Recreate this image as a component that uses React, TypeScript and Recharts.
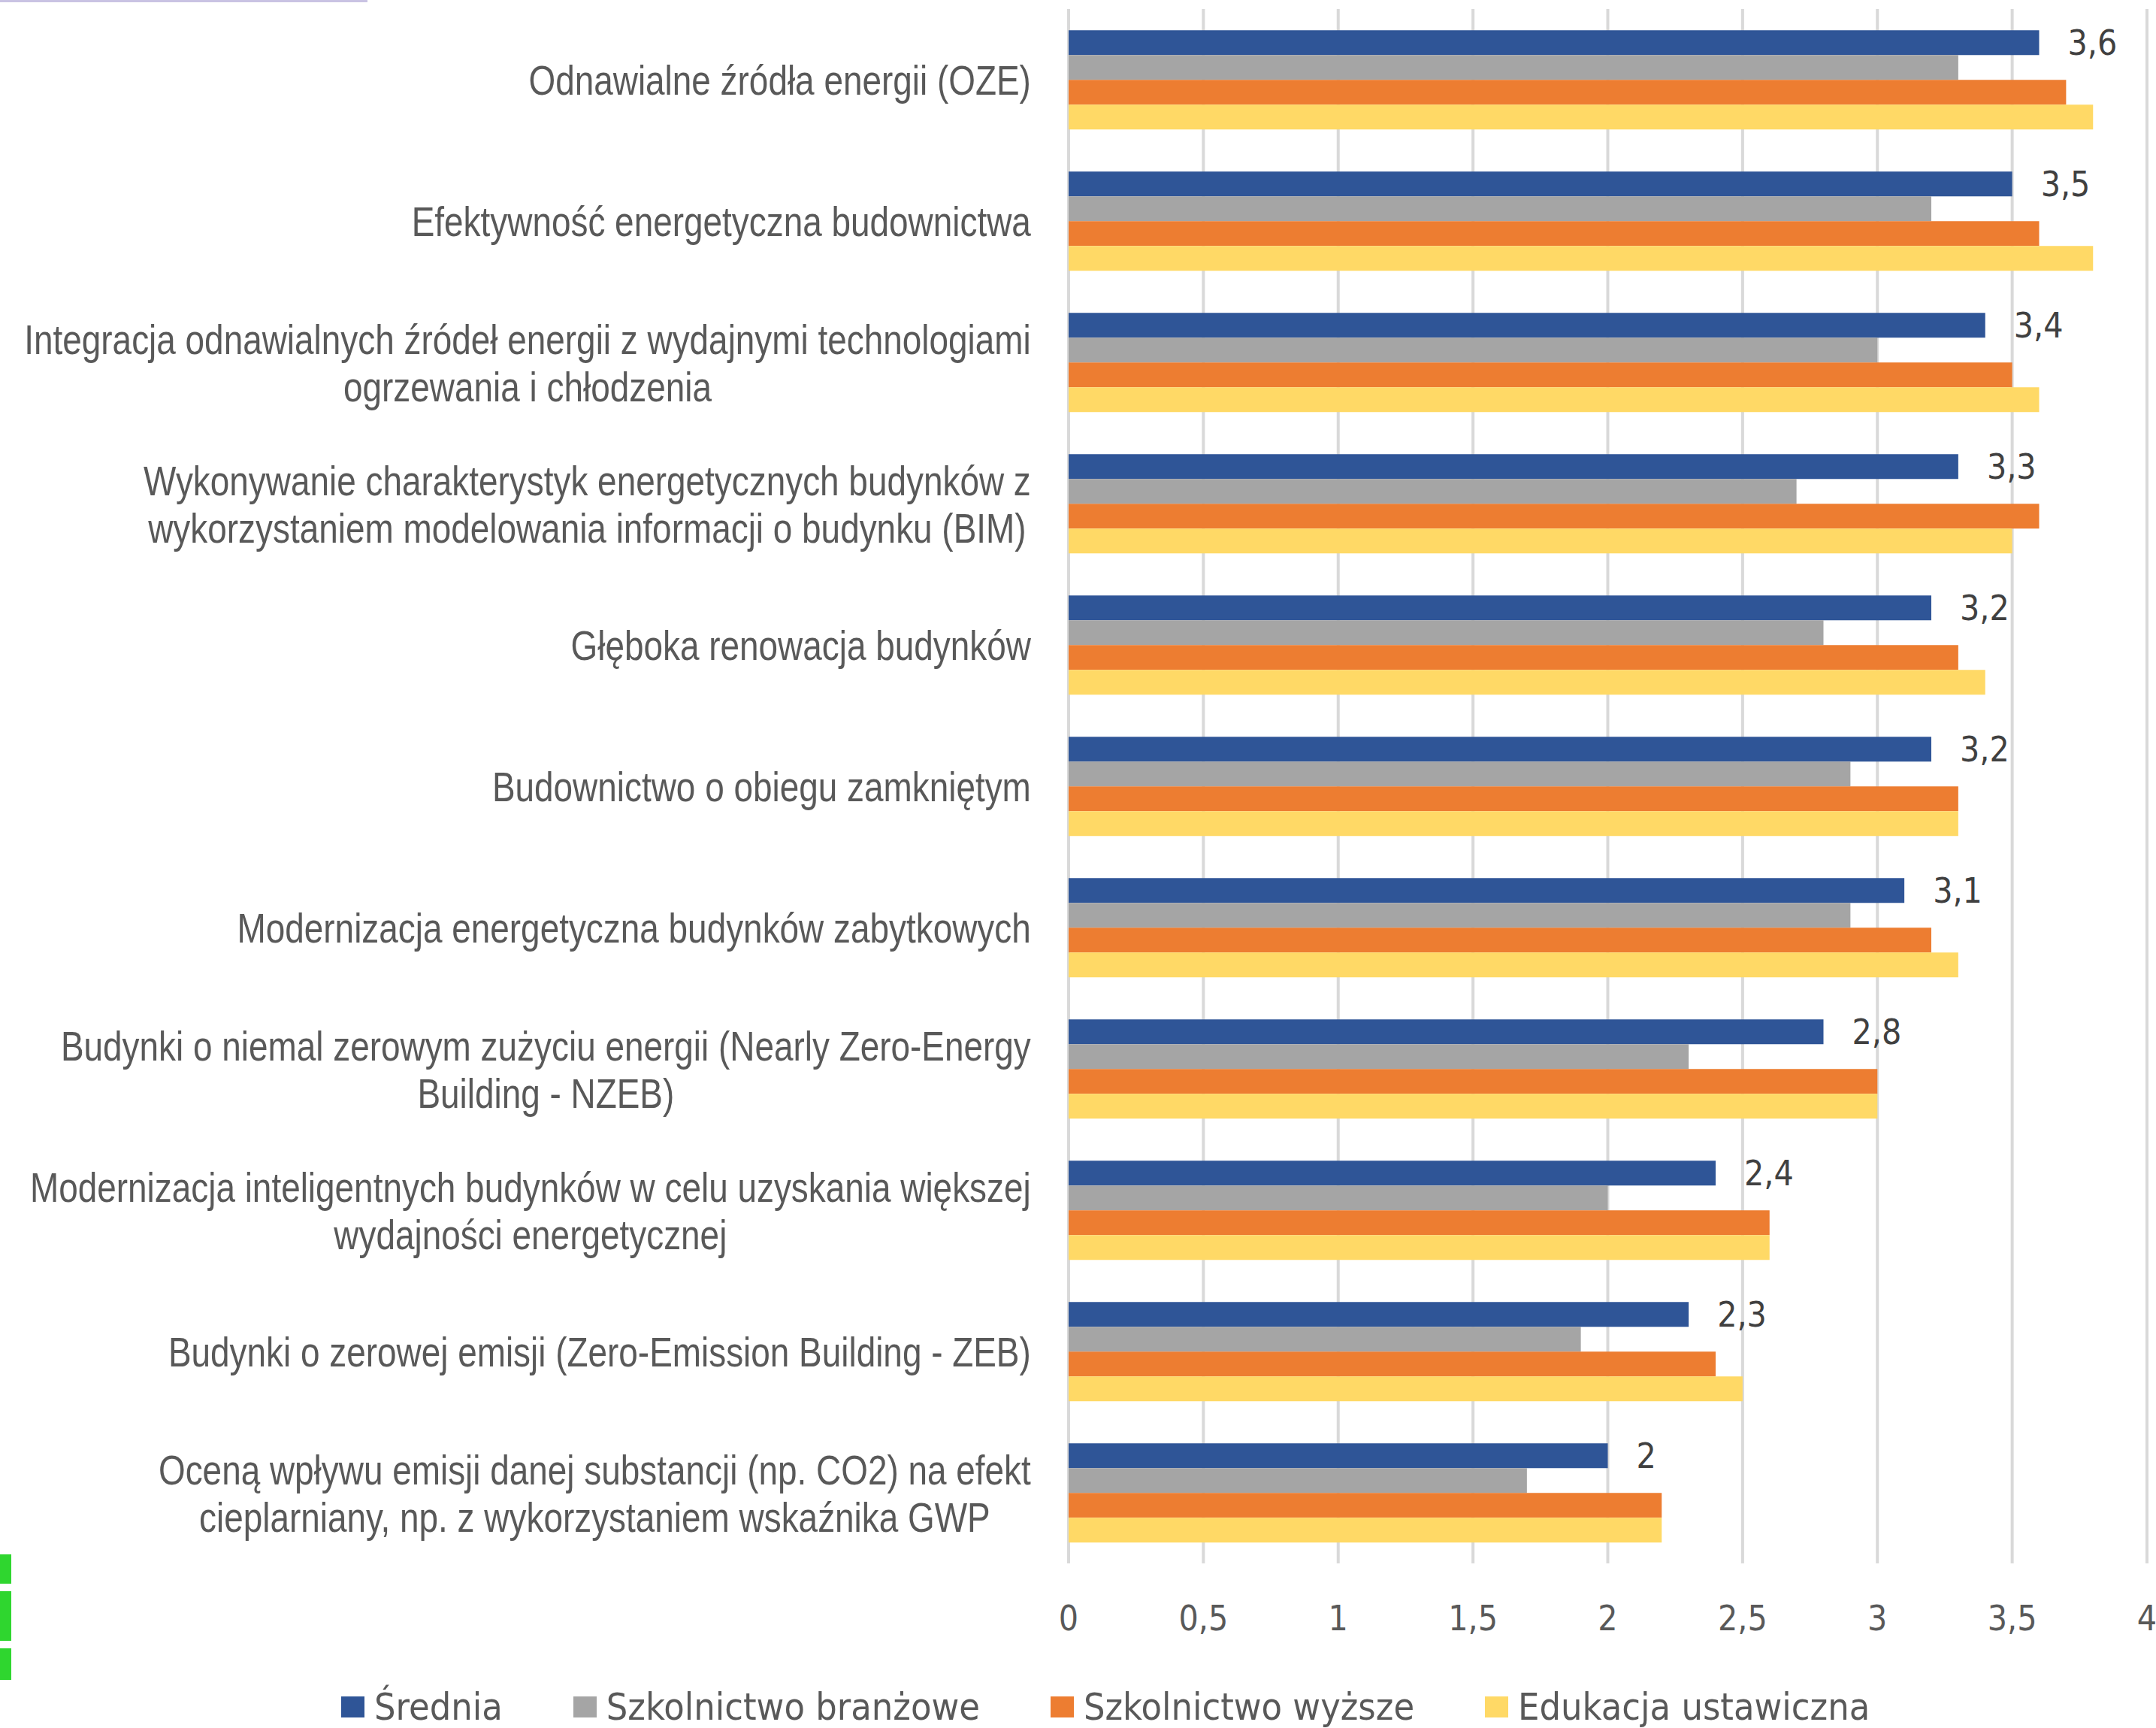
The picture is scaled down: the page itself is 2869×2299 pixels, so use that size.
import React from 'react';
import { BarChart, Bar, XAxis, YAxis, CartesianGrid, Legend, LabelList } from 'recharts';

const categories = [
  'Odnawialne źródła energii (OZE)',
  'Efektywność energetyczna budownictwa',
  'Integracja odnawialnych źródeł energii z wydajnymi technologiami\nogrzewania i chłodzenia',
  'Wykonywanie charakterystyk energetycznych budynków z\nwykorzystaniem modelowania informacji o budynku (BIM)',
  'Głęboka renowacja budynków',
  'Budownictwo o obiegu zamkniętym',
  'Modernizacja energetyczna budynków zabytkowych',
  'Budynki o niemal zerowym zużyciu energii (Nearly Zero-Energy\nBuilding - NZEB)',
  'Modernizacja inteligentnych budynków w celu uzyskania większej\nwydajności energetycznej',
  'Budynki o zerowej emisji (Zero-Emission Building - ZEB)',
  'Oceną wpływu emisji danej substancji (np. CO2) na efekt\ncieplarniany, np. z wykorzystaniem wskaźnika GWP',
];

const srednia = [3.6, 3.5, 3.4, 3.3, 3.2, 3.2, 3.1, 2.8, 2.4, 2.3, 2.0];
const branzowe = [3.3, 3.2, 3.0, 2.7, 2.8, 2.9, 2.9, 2.3, 2.0, 1.9, 1.7];
const wyzsze = [3.7, 3.6, 3.5, 3.6, 3.3, 3.3, 3.2, 3.0, 2.6, 2.4, 2.2];
const ustawiczna = [3.8, 3.8, 3.6, 3.5, 3.4, 3.3, 3.3, 3.0, 2.6, 2.5, 2.2];

const xTicks = [0, 0.5, 1, 1.5, 2, 2.5, 3, 3.5, 4];

const series = [
  { key: 'srednia', name: 'Średnia', color: '#2F5597' },
  { key: 'branzowe', name: 'Szkolnictwo branżowe', color: '#A5A5A5' },
  { key: 'wyzsze', name: 'Szkolnictwo wyższe', color: '#ED7D31' },
  { key: 'ustawiczna', name: 'Edukacja ustawiczna', color: '#FFD966' },
];

const data = categories.map((name, i) => ({
  name,
  srednia: srednia[i],
  branzowe: branzowe[i],
  wyzsze: wyzsze[i],
  ustawiczna: ustawiczna[i],
}));

// the source uses a narrow grotesque, so regular Liberation Sans is squeezed horizontally
const LABEL_FONT = "56px 'Liberation Sans'";
const SQUEEZE = 0.82;
const NUM_FONT = "'DejaVu Sans Condensed', 'DejaVu Sans'";

let ctx: CanvasRenderingContext2D | null = null;
function measure(text: string) {
  if (!ctx) ctx = document.createElement('canvas').getContext('2d');
  if (!ctx) return text.length * 25;
  ctx.font = LABEL_FONT;
  return ctx.measureText(text).width * SQUEEZE;
}

const comma = (v: number) => String(v).replace('.', ',');

function CategoryTick(props: any) {
  const { x, y, payload } = props;
  const lines: string[] = String(payload.value).split('\n');
  const maxW = Math.max(...lines.map(measure));
  const cx = x - maxW / 2;
  const lh = 63;
  return (
    <g>
      {lines.map((l, i) => (
        <g key={i} transform={`translate(${cx},${y + (i - (lines.length - 1) / 2) * lh}) scale(${SQUEEZE},1)`}>
          <text x={0} y={0} dy="0.36em" textAnchor="middle" fill="#595959" style={{ font: LABEL_FONT }}>
            {l}
          </text>
        </g>
      ))}
    </g>
  );
}

function ValueTick(props: any) {
  const { x, y, payload } = props;
  return (
    <text x={x} y={y + 66} dy="0.36em" textAnchor="middle" fill="#595959" fontSize={46} fontFamily={NUM_FONT}>
      {comma(payload.value)}
    </text>
  );
}

function LegendContent() {
  return (
    <div
      style={{
        display: 'flex',
        justifyContent: 'flex-start',
        paddingLeft: 454,
        height: 70,
        alignItems: 'flex-end',
        fontFamily: NUM_FONT,
        fontSize: 50,
        color: '#595959',
      }}
    >
      {series.map((s) => (
        <div key={s.key} style={{ display: 'flex', alignItems: 'center', marginRight: 94, lineHeight: '56px' }}>
          <span style={{ display: 'inline-block', width: 31, height: 28, background: s.color, marginRight: 13 }} />
          <span>{s.name}</span>
        </div>
      ))}
    </div>
  );
}

export default function App() {
  return (
    <div style={{ position: 'absolute', top: 0, left: 0, width: 2869, height: 2299, background: '#fff', overflow: 'hidden' }}>
      <div style={{ position: 'absolute', top: 0, left: 0, width: 489, height: 3, background: '#C9C3E3' }} />
      <div style={{ position: 'absolute', top: 2068, left: 0, width: 15, height: 39, background: '#2FD62F' }} />
      <div style={{ position: 'absolute', top: 2117, left: 0, width: 15, height: 66, background: '#2FD62F' }} />
      <div style={{ position: 'absolute', top: 2193, left: 0, width: 15, height: 42, background: '#2FD62F' }} />
      <BarChart
        width={2869}
        height={2299}
        data={data}
        layout="vertical"
        margin={{ top: 12, right: 12, left: 0, bottom: 0 }}
        barCategoryGap="15%"
        barGap={0}
      >
        <CartesianGrid horizontal={false} stroke="#D9D9D9" strokeWidth={4} />
        <XAxis
          type="number"
          domain={[0, 4]}
          ticks={xTicks}
          axisLine={false}
          tickLine={false}
          height={149}
          tick={<ValueTick />}
          tickMargin={0}
          interval={0}
        />
        <YAxis
          type="category"
          dataKey="name"
          width={1422}
          axisLine={false}
          tickLine={false}
          tickSize={0}
          tickMargin={50}
          tick={<CategoryTick />}
          interval={0}
        />
        <Legend verticalAlign="bottom" content={<LegendContent />} />
        {series.map((s) => (
          <Bar key={s.key} dataKey={s.key} name={s.name} fill={s.color} isAnimationActive={false}>
            {s.key === 'srednia' && (
              <LabelList
                dataKey={s.key}
                position="right"
                offset={38}
                formatter={(v: any) => comma(v)}
                fill="#404040"
                fontSize={46}
                fontFamily={NUM_FONT}
              />
            )}
          </Bar>
        ))}
      </BarChart>
    </div>
  );
}
